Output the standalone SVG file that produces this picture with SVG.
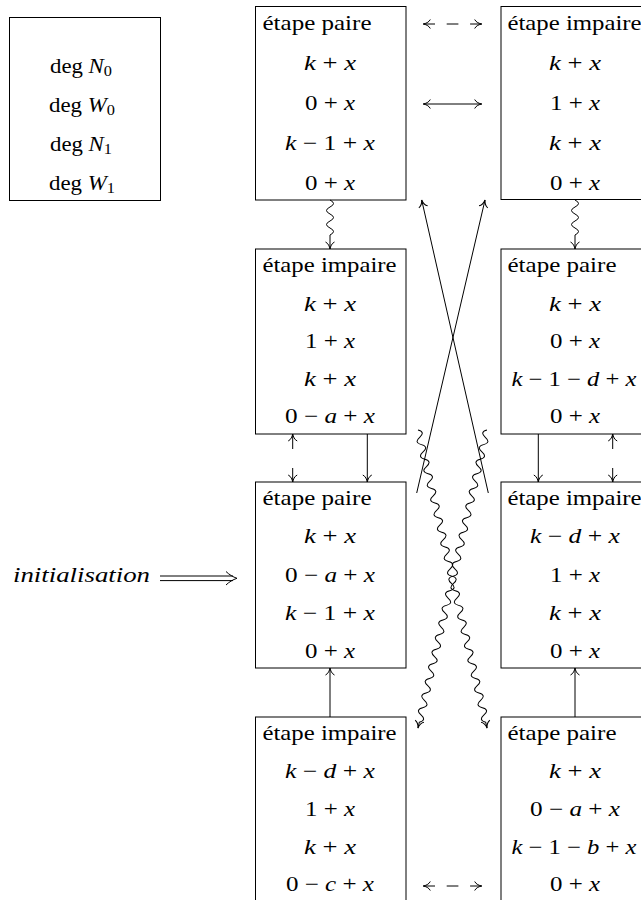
<svg xmlns="http://www.w3.org/2000/svg" width="641" height="900" viewBox="0 0 641 900">
<style>
.b{fill:none;stroke:#000;stroke-width:1}
.box{fill:#fff;stroke:#000;stroke-width:1}
text{font-family:'Liberation Serif','Times New Roman',Times,'DejaVu Serif',serif;font-size:21px;fill:#000}
.m{text-anchor:middle}
.i{font-style:italic}
.s{font-size:15px}
</style>
<defs>
<marker id="h" markerUnits="userSpaceOnUse" markerWidth="18" markerHeight="18" refX="0" refY="0" viewBox="-9 -9 18 18" orient="auto-start-reverse" overflow="visible">
<path d="M-7,-4.5 C-5.8,-1.8 -2.3,-0.4 0,0 C-2.3,0.4 -5.8,1.8 -7,4.5" fill="none" stroke="#000" stroke-width="1"/>
</marker>
</defs>

<g id="legend">
<rect class="box" x="9.5" y="17.5" width="151" height="183"/>
<text class="m" x="81" y="72.5" textLength="62" lengthAdjust="spacingAndGlyphs">deg <tspan class="i">N</tspan><tspan class="s" dy="3">0</tspan></text>
<text class="m" x="82" y="111.5" textLength="66" lengthAdjust="spacingAndGlyphs">deg <tspan class="i">W</tspan><tspan class="s" dy="3">0</tspan></text>
<text class="m" x="81" y="150.5" textLength="62" lengthAdjust="spacingAndGlyphs">deg <tspan class="i">N</tspan><tspan class="s" dy="3">1</tspan></text>
<text class="m" x="82" y="189.5" textLength="66" lengthAdjust="spacingAndGlyphs">deg <tspan class="i">W</tspan><tspan class="s" dy="3">1</tspan></text>
</g>

<g id="init">
<text class="i" x="13" y="582" textLength="137" lengthAdjust="spacingAndGlyphs">initialisation</text>
<path class="b" d="M160,576 H233 M160,580.6 H233"/>
<path class="b" d="M226,571.5 C229,574.5 233,577 237,578.3 C233,579.6 229,582 226,585"/>
</g>

<g id="L1">
<rect class="box" x="255.5" y="6.5" width="150.5" height="193.5"/>
<text x="262.5" y="29.5" textLength="109" lengthAdjust="spacingAndGlyphs">étape paire</text>
<text class="m" x="330" y="69.5" textLength="52" lengthAdjust="spacingAndGlyphs"><tspan class="i">k</tspan> + <tspan class="i">x</tspan></text>
<text class="m" x="330" y="109.5" textLength="50" lengthAdjust="spacingAndGlyphs">0 + <tspan class="i">x</tspan></text>
<text class="m" x="330" y="149.5" textLength="90" lengthAdjust="spacingAndGlyphs"><tspan class="i">k</tspan> − 1 + <tspan class="i">x</tspan></text>
<text class="m" x="330" y="189.5" textLength="50" lengthAdjust="spacingAndGlyphs">0 + <tspan class="i">x</tspan></text>
</g>

<g id="R1">
<rect class="box" x="501" y="6.5" width="160" height="193"/>
<text x="507.5" y="29.5" textLength="134" lengthAdjust="spacingAndGlyphs">étape impaire</text>
<text class="m" x="575" y="69.5" textLength="52" lengthAdjust="spacingAndGlyphs"><tspan class="i">k</tspan> + <tspan class="i">x</tspan></text>
<text class="m" x="575" y="109.5" textLength="50" lengthAdjust="spacingAndGlyphs">1 + <tspan class="i">x</tspan></text>
<text class="m" x="575" y="149.5" textLength="52" lengthAdjust="spacingAndGlyphs"><tspan class="i">k</tspan> + <tspan class="i">x</tspan></text>
<text class="m" x="575" y="189.5" textLength="50" lengthAdjust="spacingAndGlyphs">0 + <tspan class="i">x</tspan></text>
</g>

<g id="L2">
<rect class="box" x="255.5" y="249" width="150.5" height="185"/>
<text x="262.5" y="271.5" textLength="134" lengthAdjust="spacingAndGlyphs">étape impaire</text>
<text class="m" x="330" y="310.5" textLength="52" lengthAdjust="spacingAndGlyphs"><tspan class="i">k</tspan> + <tspan class="i">x</tspan></text>
<text class="m" x="330" y="348" textLength="50" lengthAdjust="spacingAndGlyphs">1 + <tspan class="i">x</tspan></text>
<text class="m" x="330" y="385.5" textLength="52" lengthAdjust="spacingAndGlyphs"><tspan class="i">k</tspan> + <tspan class="i">x</tspan></text>
<text class="m" x="330" y="423" textLength="90" lengthAdjust="spacingAndGlyphs">0 − <tspan class="i">a</tspan> + <tspan class="i">x</tspan></text>
</g>

<g id="R2">
<rect class="box" x="501" y="249" width="160" height="185"/>
<text x="507.5" y="271.5" textLength="109" lengthAdjust="spacingAndGlyphs">étape paire</text>
<text class="m" x="575" y="310.5" textLength="52" lengthAdjust="spacingAndGlyphs"><tspan class="i">k</tspan> + <tspan class="i">x</tspan></text>
<text class="m" x="575" y="348" textLength="50" lengthAdjust="spacingAndGlyphs">0 + <tspan class="i">x</tspan></text>
<text class="m" x="574" y="385.5" textLength="125" lengthAdjust="spacingAndGlyphs"><tspan class="i">k</tspan> − 1 − <tspan class="i">d</tspan> + <tspan class="i">x</tspan></text>
<text class="m" x="575" y="423" textLength="50" lengthAdjust="spacingAndGlyphs">0 + <tspan class="i">x</tspan></text>
</g>

<g id="L3">
<rect class="box" x="255.5" y="482" width="150.5" height="186"/>
<text x="262.5" y="505" textLength="109" lengthAdjust="spacingAndGlyphs">étape paire</text>
<text class="m" x="330" y="543" textLength="52" lengthAdjust="spacingAndGlyphs"><tspan class="i">k</tspan> + <tspan class="i">x</tspan></text>
<text class="m" x="330" y="581.5" textLength="90" lengthAdjust="spacingAndGlyphs">0 − <tspan class="i">a</tspan> + <tspan class="i">x</tspan></text>
<text class="m" x="330" y="620" textLength="90" lengthAdjust="spacingAndGlyphs"><tspan class="i">k</tspan> − 1 + <tspan class="i">x</tspan></text>
<text class="m" x="330" y="658" textLength="50" lengthAdjust="spacingAndGlyphs">0 + <tspan class="i">x</tspan></text>
</g>

<g id="R3">
<rect class="box" x="501" y="482" width="160" height="186"/>
<text x="507.5" y="505" textLength="134" lengthAdjust="spacingAndGlyphs">étape impaire</text>
<text class="m" x="575" y="543" textLength="90" lengthAdjust="spacingAndGlyphs"><tspan class="i">k</tspan> − <tspan class="i">d</tspan> + <tspan class="i">x</tspan></text>
<text class="m" x="575" y="581.5" textLength="50" lengthAdjust="spacingAndGlyphs">1 + <tspan class="i">x</tspan></text>
<text class="m" x="575" y="620" textLength="52" lengthAdjust="spacingAndGlyphs"><tspan class="i">k</tspan> + <tspan class="i">x</tspan></text>
<text class="m" x="575" y="658" textLength="50" lengthAdjust="spacingAndGlyphs">0 + <tspan class="i">x</tspan></text>
</g>

<g id="L4">
<rect class="box" x="255.5" y="717" width="150.5" height="200"/>
<text x="262.5" y="740" textLength="134" lengthAdjust="spacingAndGlyphs">étape impaire</text>
<text class="m" x="330" y="778" textLength="90" lengthAdjust="spacingAndGlyphs"><tspan class="i">k</tspan> − <tspan class="i">d</tspan> + <tspan class="i">x</tspan></text>
<text class="m" x="330" y="816" textLength="50" lengthAdjust="spacingAndGlyphs">1 + <tspan class="i">x</tspan></text>
<text class="m" x="330" y="853.5" textLength="52" lengthAdjust="spacingAndGlyphs"><tspan class="i">k</tspan> + <tspan class="i">x</tspan></text>
<text class="m" x="330" y="891" textLength="88" lengthAdjust="spacingAndGlyphs">0 − <tspan class="i">c</tspan> + <tspan class="i">x</tspan></text>
</g>

<g id="R4">
<rect class="box" x="501" y="717" width="160" height="200"/>
<text x="507.5" y="740" textLength="109" lengthAdjust="spacingAndGlyphs">étape paire</text>
<text class="m" x="575" y="778" textLength="52" lengthAdjust="spacingAndGlyphs"><tspan class="i">k</tspan> + <tspan class="i">x</tspan></text>
<text class="m" x="575" y="816" textLength="90" lengthAdjust="spacingAndGlyphs">0 − <tspan class="i">a</tspan> + <tspan class="i">x</tspan></text>
<text class="m" x="574" y="853.5" textLength="125" lengthAdjust="spacingAndGlyphs"><tspan class="i">k</tspan> − 1 − <tspan class="i">b</tspan> + <tspan class="i">x</tspan></text>
<text class="m" x="575" y="891" textLength="50" lengthAdjust="spacingAndGlyphs">0 + <tspan class="i">x</tspan></text>
</g>

<g id="connectors" class="b">
<path d="M423.3,24 H481.7" stroke-dasharray="11.7" marker-start="url(#h)" marker-end="url(#h)"/>
<path d="M423.3,104 H481.7" marker-start="url(#h)" marker-end="url(#h)"/>
<path d="M423.3,886 H481.7" stroke-dasharray="11.7" marker-start="url(#h)" marker-end="url(#h)"/>
<path d="M330,200 Q337,203.5 330,207 T330,214 T330,221 T330,228 T330,235 L330,249" marker-end="url(#h)"/>
<path d="M575,200 Q582,203.5 575,207 T575,214 T575,221 T575,228 T575,235 L575,249" marker-end="url(#h)"/>
<path d="M416.7,493 L485,200" marker-end="url(#h)"/>
<path d="M488.3,493 L421.7,200" marker-end="url(#h)"/>
<path transform="translate(418,430) rotate(76.96)" d="M0,0 Q3.75,-7 7.5,0 T15,0 T22.5,0 T30,0 T37.5,0 T45,0 T52.5,0 T60,0 T67.5,0 T75,0 T82.5,0 T90,0 T97.5,0 T105,0 T112.5,0 T120,0 T127.5,0 T135,0 T142.5,0 T150,0 T157.5,0 T165,0 T172.5,0 T180,0 T187.5,0 T195,0 T202.5,0 T210,0 T217.5,0 T225,0 T232.5,0 T240,0 T247.5,0 T255,0 T262.5,0 T270,0 T277.5,0 T285,0 T292.5,0 T300,0 L306,0" marker-end="url(#h)"/>
<path transform="translate(487,430) rotate(103.04)" d="M0,0 Q3.75,7 7.5,0 T15,0 T22.5,0 T30,0 T37.5,0 T45,0 T52.5,0 T60,0 T67.5,0 T75,0 T82.5,0 T90,0 T97.5,0 T105,0 T112.5,0 T120,0 T127.5,0 T135,0 T142.5,0 T150,0 T157.5,0 T165,0 T172.5,0 T180,0 T187.5,0 T195,0 T202.5,0 T210,0 T217.5,0 T225,0 T232.5,0 T240,0 T247.5,0 T255,0 T262.5,0 T270,0 T277.5,0 T285,0 T292.5,0 T300,0 L306,0" marker-end="url(#h)"/>
<path d="M292.7,434 V482" stroke-dasharray="15 19" marker-start="url(#h)" marker-end="url(#h)"/>
<path d="M367.3,434 V482" marker-end="url(#h)"/>
<path d="M538.3,434 V482" marker-end="url(#h)"/>
<path d="M612.7,434 V482" stroke-dasharray="15 19" marker-start="url(#h)" marker-end="url(#h)"/>
<path d="M330,717 V668" marker-end="url(#h)"/>
<path d="M575,717 V668" marker-end="url(#h)"/>
</g>
</svg>
